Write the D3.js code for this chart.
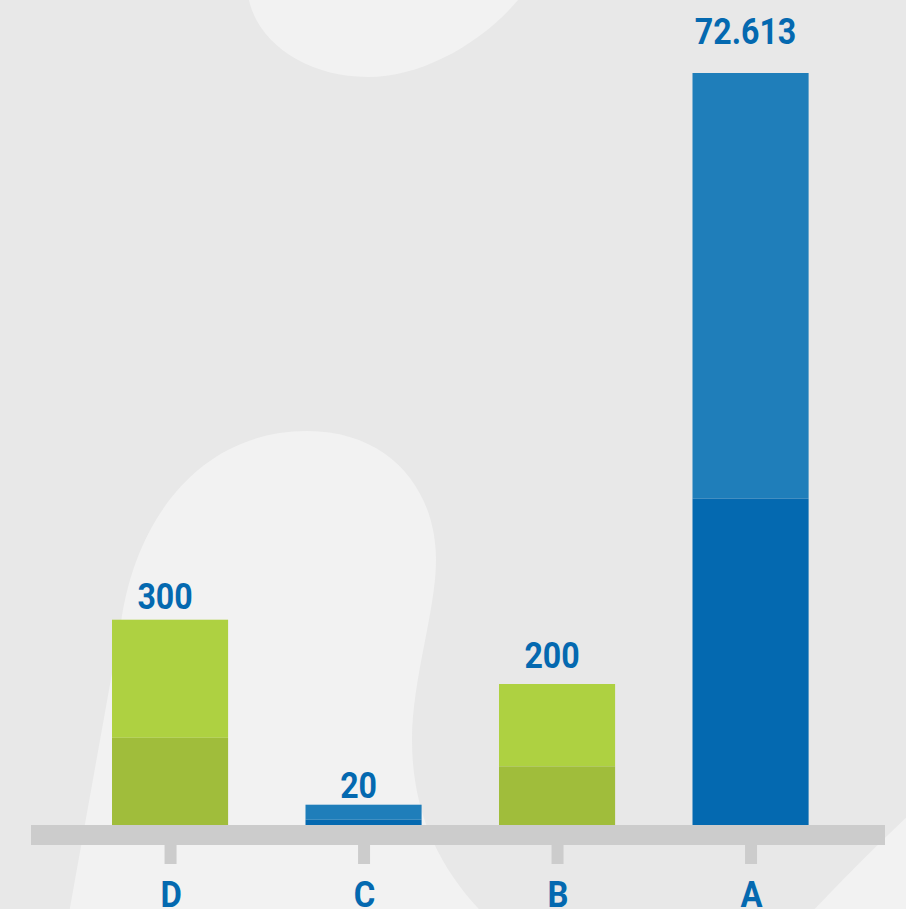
<!DOCTYPE html>
<html>
<head>
<meta charset="utf-8">
<script src="https://cdn.jsdelivr.net/npm/d3@7"></script>
<style>
  html, body { margin: 0; padding: 0; background: #e8e8e8; }
  svg { display: block; }
  .lbl { font-family: Roboto, 'DejaVu Sans', sans-serif; font-weight: bold; fill: #0469b0; }
</style>
</head>
<body>
<svg id="chart" width="906" height="909"></svg>
<script>
// ---- data ----
const categories = ["D", "C", "B", "A"];
const valueLabels = ["300", "20", "200", "72.613"];
const values = [300, 20, 200, 72613];
// visual segment sizes (bar A total = 100)
const lowerSegment = [11.6, 0.7, 7.8, 43.4];
const upperSegment = [15.7, 2.0, 10.95, 56.6];
const seriesColors = { D: ["#a0bd3b", "#aed141"], C: ["#0469b0", "#1f7eba"], B: ["#a0bd3b", "#aed141"], A: ["#0469b0", "#1f7eba"] };

const W = 906, H = 909;
const svg = d3.select("#chart");

// background decoration
svg.append("rect").attr("width", W).attr("height", H).attr("fill", "#e8e8e8");
const deco = [
  "M249,-5 L249,0 C258,42 305,77 368,77 C420,77 480,45 518,0 L520,-5 Z",
  "M66,930 L121,623 C135,520 200,431 307,431 C390,431 436,490 436,560 C436,610 412,680 412,740 C412,820 445,880 500,930 Z",
  "M795,930 Q860,860 925,800 L925,930 Z"
];
deco.forEach(d => svg.append("path").attr("d", d).attr("fill", "#f2f2f2"));

// scales
const x = d3.scaleBand().domain(categories).range([73.3, 847.3]).paddingInner(0.4).paddingOuter(0.2);
const y = d3.scaleLinear().domain([0, 100]).range([825, 73]);

const rows = categories.map((c, i) => ({ cat: c, label: valueLabels[i], value: values[i], lower: lowerSegment[i], upper: upperSegment[i] }));

// axis band
svg.append("rect").attr("x", 31).attr("y", 825).attr("width", 854).attr("height", 20).attr("fill", "#cccccc");
// ticks
svg.selectAll("rect.tick").data(rows).join("rect").attr("class", "tick")
  .attr("x", d => x(d.cat) + x.bandwidth() / 2 - 5.5).attr("y", 845)
  .attr("width", 12).attr("height", 19).attr("fill", "#cccccc");

// bars (stacked: lower darker, upper lighter)
const g = svg.append("g");
g.selectAll("rect.upper").data(rows).join("rect").attr("class", "upper")
  .attr("x", d => x(d.cat)).attr("width", x.bandwidth())
  .attr("y", d => y(d.lower + d.upper)).attr("height", d => y(d.lower) - y(d.lower + d.upper))
  .attr("fill", d => seriesColors[d.cat][1]);
g.selectAll("rect.lower").data(rows).join("rect").attr("class", "lower")
  .attr("x", d => x(d.cat)).attr("width", x.bandwidth())
  .attr("y", d => y(d.lower)).attr("height", d => y(0) - y(d.lower))
  .attr("fill", d => seriesColors[d.cat][0]);

// value labels
const labelLift = { D: 11, C: 7, B: 16, A: 29 };
svg.selectAll("text.val").data(rows).join("text").attr("class", "lbl val")
  .attr("transform", d => `translate(${x(d.cat) + x.bandwidth() / 2 - 5},${y(d.lower + d.upper) - labelLift[d.cat]}) scale(0.88,1)`)
  .attr("text-anchor", "middle").attr("font-size", 36.5)
  .text(d => d.label);

// category labels
svg.selectAll("text.cat").data(rows).join("text").attr("class", "lbl cat")
  .attr("transform", d => `translate(${x(d.cat) + x.bandwidth() / 2 + 1},907) scale(0.9,1)`)
  .attr("text-anchor", "middle").attr("font-size", 36.5)
  .text(d => d.cat);
</script>
</body>
</html>
